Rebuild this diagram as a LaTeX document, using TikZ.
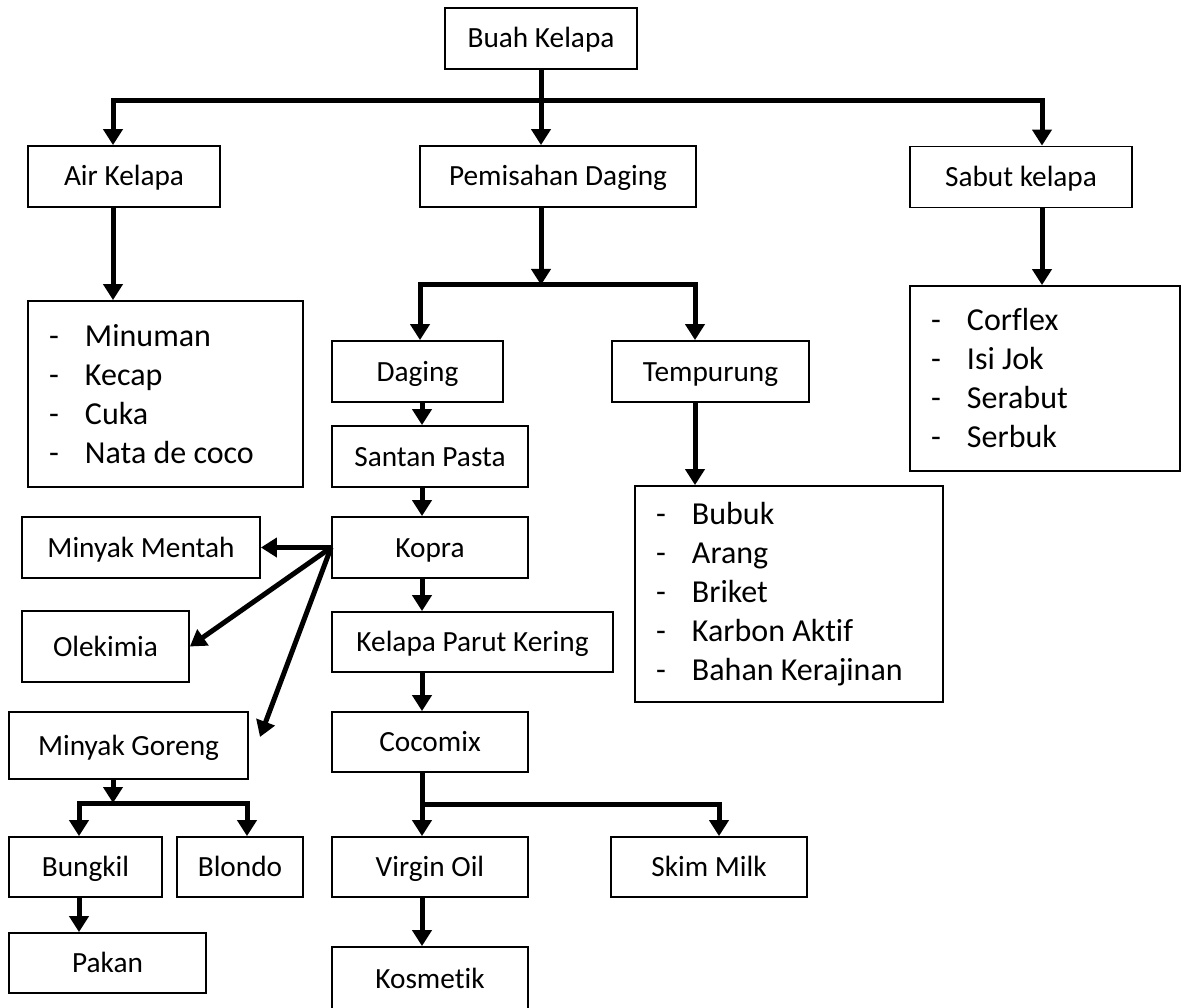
\documentclass[tikz,border=0pt]{standalone}
\usepackage{fontspec}
\setmainfont[Ligatures=NoCommon]{Carlito}
\usetikzlibrary{arrows.meta}
\newcommand{\butir}[1]{\hspace*{21pt}\makebox[36pt][l]{-}#1}

\begin{document}
\begin{tikzpicture}[x=1pt, y=-1pt,
    kotak/.style={draw, line width=1.8pt, inner sep=0pt, minimum height=61pt,
      font=\fontsize{29.3}{39}\selectfont, text height=19pt, text depth=0pt},
    daftar/.style={draw, line width=1.8pt, inner sep=0pt, align=flush left,
      font=\fontsize{32}{39}\selectfont},
    panah/.style={line width=5pt, -{Triangle[length=16pt, width=19pt]}},
    cabang/.style={line width=5pt,
      {Triangle[length=16pt, width=19pt]}-{Triangle[length=16pt, width=19pt]}}]
    \useasboundingbox (0,0) rectangle (1183,1008);

    \node[kotak, minimum width=192pt] (buah) at (541,38.5) {Buah Kelapa};
    \node[kotak, minimum width=192pt] (air) at (124,176.5) {Air Kelapa};
    \node[kotak, minimum width=276pt] (pemisahan) at (558,176.5) {Pemisahan Daging};
    \node[kotak, minimum width=222pt] (sabut) at (1021,177) {Sabut kelapa};

    \node[daftar, text width=275pt, minimum height=186pt] (listair) at (165.5,394)
      {\butir{Minuman}\\ \butir{Kecap}\\ \butir{Cuka}\\ \butir{Nata de coco}};
    \node[daftar, text width=270pt, minimum height=185pt] (listsabut) at (1045,378.5)
      {\butir{Corflex}\\ \butir{Isi Jok}\\ \butir{Serabut}\\ \butir{Serbuk}};
    \node[daftar, text width=308pt, minimum height=216pt] (listtemp) at (789,594)
      {\butir{Bubuk}\\ \butir{Arang}\\ \butir{Briket}\\ \butir{Karbon Aktif}\\ \butir{Bahan Kerajinan}};

    \node[kotak, minimum width=171pt] (daging) at (417.5,371.5) {Daging};
    \node[kotak, minimum width=197pt] (tempurung) at (710.5,371.5) {Tempurung};
    \node[kotak, minimum width=196pt] (santan) at (430,456.5) {Santan Pasta};
    \node[kotak, minimum width=196pt] (kopra) at (430,547.5) {Kopra};
    \node[kotak, minimum width=281pt, minimum height=60pt] (kpk) at (472.5,642) {Kelapa Parut Kering};
    \node[kotak, minimum width=196pt, minimum height=60pt] (cocomix) at (430,742) {Cocomix};
    \node[kotak, minimum width=196pt, minimum height=60pt] (virgin) at (430,867) {Virgin Oil};
    \node[kotak, minimum width=196pt, minimum height=60pt] (skim) at (709,867) {Skim Milk};
    \node[kotak, minimum width=196pt, minimum height=63pt] (kosmetik) at (430,978.5) {Kosmetik};

    \node[kotak, minimum width=238pt] (mentah) at (141,547.5) {Minyak Mentah};
    \node[kotak, minimum width=167pt, minimum height=71pt] (olekimia) at (105.5,646.5) {Olekimia};
    \node[kotak, minimum width=239pt, minimum height=67pt] (goreng) at (128.5,745.5) {Minyak Goreng};
    \node[kotak, minimum width=153pt, minimum height=60pt] (bungkil) at (85.5,867) {Bungkil};
    \node[kotak, minimum width=126pt, minimum height=60pt] (blondo) at (240,867) {Blondo};
    \node[kotak, minimum width=197pt, minimum height=60pt] (pakan) at (107.5,963) {Pakan};

    \coordinate (bL) at (113,101);
    \coordinate (bR) at (1042,101);
    \coordinate (cL) at (420,285);
    \coordinate (cR) at (695,285);
    \coordinate (sumbu) at (422,0);
    \coordinate (dR) at (719,804);
    \coordinate (eL) at (79,803);
    \coordinate (eM) at (113,803);
    \coordinate (eR) at (247,803);
    \coordinate (ujung) at (260,737);

    \draw[cabang] (air.north -| bL) |- (bR) -- (sabut.north -| bR);
    \draw[panah] (buah.south) -- (buah.south |- pemisahan.north);
    \draw[panah] (air.south -| bL) -- (listair.north -| bL);
    \draw[panah] (sabut.south -| bR) -- (listsabut.north -| bR);
    \draw[panah] (buah.south |- pemisahan.south) -- (buah.south |- cL);
    \draw[cabang] (daging.north -| cL) |- (cR) -- (tempurung.north -| cR);
    \draw[panah] (tempurung.south -| cR) -- (listtemp.north -| cR);

    \foreach \a/\b in {daging/santan, santan/kopra, kopra/kpk, kpk/cocomix,
      cocomix/virgin, virgin/kosmetik}
      \draw[panah] (\a.south -| sumbu) -- (\b.north -| sumbu);
    \draw[panah] (sumbu |- dR) -| (skim.north -| dR);

    \draw[panah] (kopra.west) -- (mentah.east);
    \draw[panah] (kopra.west) -- (olekimia.east);
    \draw[panah] (kopra.west) -- (ujung);

    \draw[panah] (goreng.south -| eM) -- (eM);
    \draw[cabang] (bungkil.north -| eL) |- (eR) -- (blondo.north -| eR);
    \draw[panah] (bungkil.south -| eL) -- (pakan.north -| eL);
\end{tikzpicture}
\end{document}
